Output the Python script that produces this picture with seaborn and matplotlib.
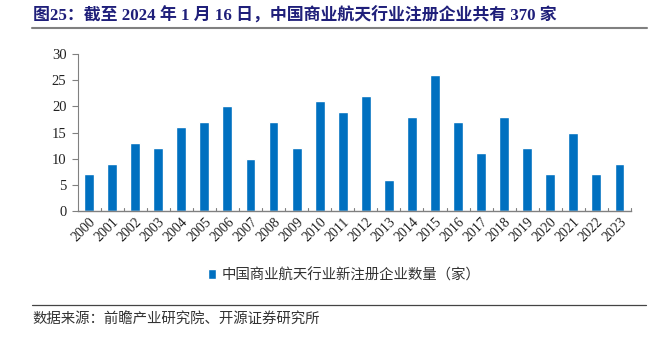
import matplotlib
matplotlib.use("Agg")
import matplotlib.pyplot as plt
import seaborn as sns
import pandas as pd
from matplotlib.lines import Line2D

years = [str(y) for y in range(2000, 2024)]
counts = [7, 9, 13, 12, 16, 17, 20, 10, 17, 12, 21, 19, 22, 6, 18, 26, 17, 11, 18, 12, 7, 15, 7, 9]
series_name = "中国商业航天行业新注册企业数量（家）"
title = "图25：截至 2024 年 1 月 16 日，中国商业航天行业注册企业共有 370 家"
source = "数据来源：前瞻产业研究院、开源证券研究所"
yticks = [0, 5, 10, 15, 20, 25, 30]

sns.set_theme(style="white")
plt.rcParams['font.family'] = ['Liberation Serif', 'Noto Sans CJK SC', 'DejaVu Sans']

df = pd.DataFrame({"year": years, "count": counts})

fig = plt.figure(figsize=(6.55, 3.41), dpi=100)
ax = fig.add_axes([77.5/655, 1-211/341, (631-77.5)/655, (211-54)/341])
bar_color = "#0070C0"
sns.barplot(data=df, x="year", y="count", color=bar_color, width=0.43, ax=ax,
            saturation=1, label=series_name)

ax.set_ylim(0, 30)
ax.set_xlim(-0.5, len(years) - 0.5)
ax.set_yticks(yticks)
ax.set_yticklabels([str(v) for v in yticks], fontsize=10.5, color="#222222")
ax.set_xlabel("")
ax.set_ylabel("")
ax.set_xticks(range(len(years)))
ax.set_xticklabels(years, rotation=45, ha="right", rotation_mode="anchor", fontsize=10, color="#222222")
ax.tick_params(axis='x', length=0, pad=3)
ax.tick_params(axis='y', length=4, direction='out', color="#808080", width=0.8, pad=4, left=True)
# boundary ticks on x-axis
for b in [i + 0.5 for i in range(len(years))]:
    ax.plot([b, b], [0, 0.6], color="#808080", lw=0.8, clip_on=False)
for s in ["top", "right"]:
    ax.spines[s].set_visible(False)
ax.spines["left"].set_color("#808080")
ax.spines["bottom"].set_color("#808080")
ax.spines["left"].set_linewidth(0.8)
ax.spines["bottom"].set_linewidth(1.0)
ax.grid(False)

leg = ax.legend(loc="center", bbox_to_anchor=((344 - 77.5) / (631 - 77.5), -(275 - 211) / (211 - 54)),
                frameon=False, handlelength=0.6, handleheight=0.6, handletextpad=0.35,
                prop={'family': ['Noto Sans CJK SC'], 'size': 10.4})
for t in leg.get_texts():
    t.set_color("#333333")

fig.text(33/655, 1-15.5/341, title, fontsize=12.2, fontweight="bold", color="#1F1F7A",
         va="center", ha="left", family=['Liberation Serif', 'Noto Sans CJK SC'])
fig.add_artist(Line2D([32/655, 647/655], [1-28/341, 1-28/341], color="#808080", lw=1.5))
fig.add_artist(Line2D([32/655, 646/655], [1-305/341, 1-305/341], color="#444444", lw=0.9))
fig.text(32/655, 1-320/341, source, fontsize=10.4, color="#333333", va="center", ha="left",
         family=['Noto Sans CJK SC'])

fig.savefig("out.png", dpi=100)
